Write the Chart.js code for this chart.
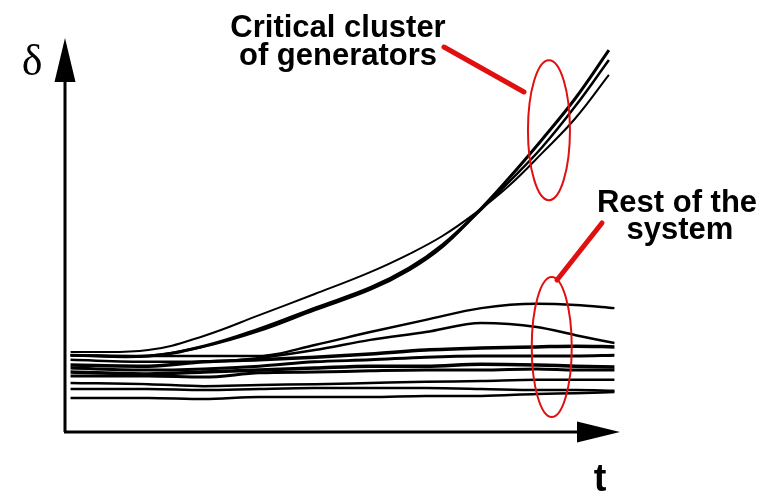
<!DOCTYPE html>
<html>
<head>
<meta charset="utf-8">
<script src="https://cdn.jsdelivr.net/npm/chart.js@4"></script>
<style>
  html, body { margin:0; padding:0; background:#fff; }
  canvas { display:block; }
</style>
</head>
<body>
<canvas id="chart" width="770" height="494"></canvas>
<script>
// time samples (0..100 across the t axis)
const tRest = [1, 15, 25, 35, 45, 55, 65, 75, 85, 92, 99];
const tCrit = [1, 15, 25, 35, 45, 55, 62, 68, 74, 80, 86, 92, 98];

// critical cluster of generators (diverging)
const critThin   = [20.4, 20.9, 24.5, 29.8, 35.2, 40.8, 45.4, 50.0, 55.9, 62.8, 71.2, 80.1, 91.1];
const critThickA = [19.6, 19.4, 21.9, 26.3, 31.6, 36.8, 41.8, 47.7, 55.6, 64.8, 74.7, 85.2, 97.4];
const critThickB = [19.6, 19.4, 21.8, 25.8, 31.1, 36.3, 41.3, 47.2, 55.4, 63.8, 72.7, 83.2, 94.9];

// rest of the system (stays bounded)
const rest1 = [19.6, 19.4, 19.4, 19.4, 22.2, 25.5, 28.6, 31.6, 32.7, 32.4, 31.6];
const rest2 = [18.4, 17.9, 17.9, 18.9, 20.9, 23.5, 25.5, 27.8, 26.8, 24.7, 22.7];
const rest3 = [17.1, 16.8, 17.9, 18.4, 19.1, 19.9, 20.9, 21.4, 21.7, 21.9, 21.7];
const rest4 = [16.3, 15.8, 16.1, 16.8, 17.9, 18.4, 19.1, 19.4, 19.4, 19.4, 19.6];
const rest5 = [15.3, 14.8, 15.3, 15.8, 16.3, 16.8, 16.8, 17.3, 17.1, 16.8, 16.6];
const rest6 = [14.3, 14.3, 14.0, 15.1, 15.3, 15.6, 15.8, 15.8, 16.1, 15.8, 15.8];
const rest7 = [12.5, 12.2, 11.7, 12.0, 12.2, 12.5, 12.8, 13.0, 13.3, 13.3, 13.3];
const rest8 = [11.0, 11.0, 10.7, 11.0, 11.2, 11.2, 11.2, 11.0, 10.7, 10.7, 10.5];
const rest9 = [8.7, 8.7, 8.4, 8.9, 8.9, 8.9, 9.2, 9.2, 9.7, 9.9, 10.2];

// annotation ellipses (centre in data units)
const ellipseCrit = { t: 87.2, d: 77.0 };
const ellipseRest = { t: 87.7, d: 21.7 };

function series(ts, vals, w, smooth){
  return {
    data: vals.map((v,i) => ({ x: ts[i], y: v })),
    borderColor: '#000', borderWidth: w, pointRadius: 0,
    cubicInterpolationMode: smooth ? 'default' : 'monotone',
    tension: 0.4, fill: false
  };
}

const sketchPlugin = {
  id: 'sketch',
  afterDraw(chart){
    const ctx = chart.ctx, a = chart.chartArea;
    const xs = chart.scales.x, ys = chart.scales.y;
    ctx.save();
    // axes with arrows
    ctx.strokeStyle = '#000'; ctx.fillStyle = '#000'; ctx.lineWidth = 3;
    ctx.beginPath();
    ctx.moveTo(a.left, a.bottom); ctx.lineTo(a.left, a.top + 40);
    ctx.moveTo(a.left - 1, a.bottom); ctx.lineTo(a.right - 42, a.bottom);
    ctx.stroke();
    ctx.beginPath();
    ctx.moveTo(a.left, a.top - 2); ctx.lineTo(a.left - 10.5, a.top + 42); ctx.lineTo(a.left + 10.5, a.top + 42);
    ctx.closePath(); ctx.fill();
    ctx.beginPath();
    ctx.moveTo(a.right, a.bottom); ctx.lineTo(a.right - 43, a.bottom - 10.5); ctx.lineTo(a.right - 43, a.bottom + 10.5);
    ctx.closePath(); ctx.fill();

    // axis labels
    ctx.font = '44px "Liberation Serif"';
    ctx.textAlign = 'center'; ctx.textBaseline = 'alphabetic';
    ctx.fillText('δ', 32, 75);
    ctx.font = 'bold 38px "Liberation Sans"';
    ctx.fillText('t', 600, 491);

    // callout text
    ctx.font = 'bold 31px "Liberation Sans"';
    ctx.fillText('Critical cluster', 338, 37);
    ctx.fillText('of generators', 338, 65);
    ctx.fillText('Rest of the', 677, 212);
    ctx.fillText('system', 680, 239);

    // red ellipses and leader lines
    ctx.strokeStyle = '#e01010';
    ctx.lineWidth = 2;
    ctx.beginPath();
    ctx.ellipse(xs.getPixelForValue(ellipseCrit.t), ys.getPixelForValue(ellipseCrit.d), 21, 70, 0, 0, Math.PI*2);
    ctx.stroke();
    ctx.beginPath();
    ctx.ellipse(xs.getPixelForValue(ellipseRest.t), ys.getPixelForValue(ellipseRest.d), 20, 70, 0, 0, Math.PI*2);
    ctx.stroke();
    ctx.lineWidth = 5; ctx.lineCap = 'round';
    ctx.beginPath();
    ctx.moveTo(444, 47); ctx.lineTo(524, 92);
    ctx.moveTo(602, 223); ctx.lineTo(557, 280);
    ctx.stroke();
    ctx.restore();
  }
};

new Chart(document.getElementById('chart').getContext('2d'), {
  type: 'line',
  data: {
    datasets: [
      series(tCrit, critThin, 2, true), series(tCrit, critThickA, 3, true), series(tCrit, critThickB, 2.5, true),
      series(tRest, rest1, 2.5), series(tRest, rest2, 2.5), series(tRest, rest3, 3.5), series(tRest, rest4, 3),
      series(tRest, rest5, 3.5), series(tRest, rest6, 3), series(tRest, rest7, 2.5), series(tRest, rest8, 2.5), series(tRest, rest9, 2.5)
    ]
  },
  options: {
    responsive: false,
    animation: false,
    layout: { padding: { left: 65, right: 150, top: 40, bottom: 62 } },
    plugins: { legend: { display: false }, tooltip: { enabled: false } },
    scales: {
      x: { type: 'linear', min: 0, max: 100, display: false },
      y: { type: 'linear', min: 0, max: 100, display: false }
    }
  },
  plugins: [sketchPlugin]
});
</script>
</body>
</html>
